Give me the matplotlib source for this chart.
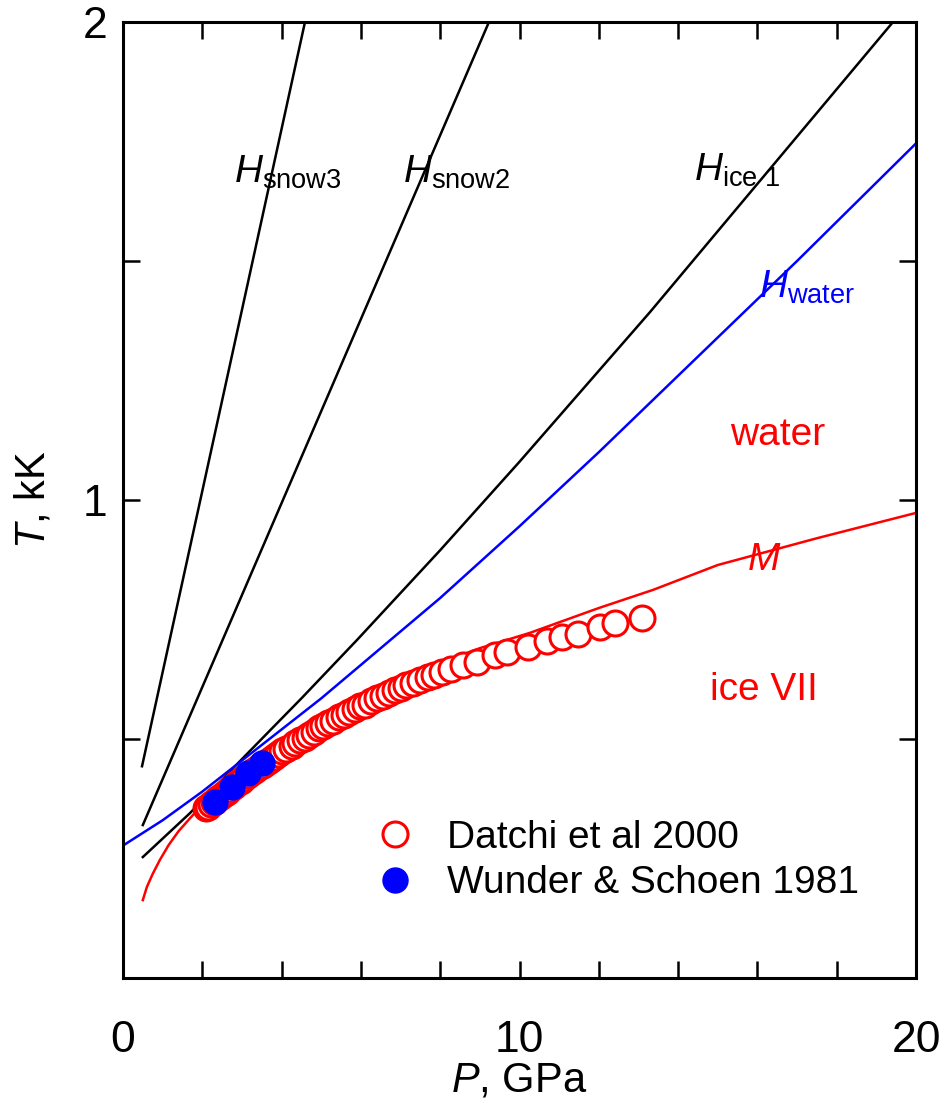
import matplotlib
matplotlib.use("Agg")
import matplotlib.pyplot as plt
from matplotlib import font_manager
from matplotlib.ticker import MultipleLocator

# Hugoniots and melting line (P in GPa, T in kK)
snow3_P = [0.48, 4.59]
snow3_T = [0.443, 2.0]
snow2_P = [0.5, 9.23]
snow2_T = [0.32, 2.0]
ice1_P = [0.5, 1.69, 3.0, 4.5, 5.9, 8.0, 10.0, 13.29, 19.42]
ice1_T = [0.253, 0.345, 0.458, 0.585, 0.707, 0.895, 1.08, 1.393, 2.0]
water_P = [0.0, 1.0, 2.0, 3.0, 4.0, 5.0, 6.0, 7.0, 8.0, 9.0, 10.0, 12.0, 14.0, 15.2, 17.0, 20.0]
water_T = [0.277, 0.33, 0.39, 0.455, 0.52, 0.585, 0.655, 0.725, 0.795, 0.87, 0.945,
           1.10, 1.26, 1.356, 1.50, 1.746]
melt_P = [0.5, 0.6, 0.75, 0.93, 1.15, 1.4, 1.87, 2.5, 3.0, 4.0, 5.0, 6.0, 7.0, 8.0, 9.0,
          10.26, 12.0, 13.37, 15.0, 17.5, 20.0]
melt_T = [0.163, 0.19, 0.218, 0.247, 0.278, 0.307, 0.351, 0.395, 0.432, 0.495, 0.548,
          0.595, 0.63, 0.66, 0.69, 0.722, 0.774, 0.812, 0.864, 0.92, 0.973]

# Datchi et al 2000
datchi_P = [2.10, 2.15, 2.22, 2.30, 2.38, 2.45, 2.55, 2.62, 2.70, 2.80, 2.88, 2.97,
            3.05, 3.15, 3.25, 3.33, 3.42, 3.52, 3.62, 3.70, 3.80, 3.92, 4.02, 4.12,
            4.25, 4.35, 4.46, 4.58, 4.70, 4.82, 4.95, 5.05, 5.18, 5.30, 5.45, 5.58,
            5.70, 5.85, 5.98, 6.10, 6.25, 6.40, 6.55, 6.70, 6.85, 7.00, 7.15, 7.32,
            7.50, 7.68, 7.85, 8.05, 8.28, 8.58, 8.92, 9.38, 9.68, 10.22, 10.69, 11.06,
            11.48, 12.03, 12.41, 13.08]
datchi_T = [0.355, 0.358, 0.363, 0.368, 0.374, 0.378, 0.385, 0.390, 0.395, 0.402, 0.407, 0.413,
            0.418, 0.424, 0.430, 0.435, 0.441, 0.446, 0.452, 0.456, 0.462, 0.468, 0.474, 0.479,
            0.486, 0.491, 0.497, 0.503, 0.509, 0.515, 0.522, 0.527, 0.533, 0.538, 0.545, 0.551,
            0.556, 0.562, 0.568, 0.572, 0.579, 0.585, 0.591, 0.597, 0.602, 0.607, 0.612, 0.618,
            0.624, 0.629, 0.634, 0.640, 0.646, 0.655, 0.662, 0.676, 0.683, 0.693, 0.704, 0.713,
            0.720, 0.734, 0.742, 0.7525]

# Wunder & Schoen 1981
wunder_P = [2.32, 2.74, 3.16, 3.50]
wunder_T = [0.369, 0.400, 0.428, 0.449]

installed = {f.name for f in font_manager.fontManager.ttflist}
narrow = 'Liberation Sans Narrow' if 'Liberation Sans Narrow' in installed else 'Liberation Sans'
tick_size = 36 if narrow != 'Liberation Sans' else 32

plt.rcParams['font.family'] = [narrow, 'Liberation Sans', 'DejaVu Sans']
plt.rcParams['mathtext.fontset'] = 'custom'
plt.rcParams['mathtext.rm'] = 'Liberation Sans'
plt.rcParams['mathtext.it'] = 'Liberation Sans:italic'

fig = plt.figure(figsize=(9.47, 11.04), dpi=100)
ax = fig.add_axes([123 / 947, 1 - 978 / 1104, 793 / 947, 956 / 1104])

ax.plot(snow3_P, snow3_T, color='black', lw=1.8)
ax.plot(snow2_P, snow2_T, color='black', lw=1.8)
ax.plot(ice1_P, ice1_T, color='black', lw=1.8)
ax.plot(water_P, water_T, color='blue', lw=1.8)
ax.plot(melt_P, melt_T, color='red', lw=1.8)

ax.plot(datchi_P, datchi_T, 'o', ms=18, mfc='white', mec='red', mew=2.2,
        label='Datchi et al 2000')
ax.plot(wunder_P, wunder_T, 'o', ms=18, mfc='blue', mec='blue', mew=1,
        label='Wunder & Schoen 1981')

ax.set_xlim(0, 20)
ax.set_ylim(0, 2)

ax.xaxis.set_major_locator(MultipleLocator(2))
ax.xaxis.set_major_formatter(plt.FuncFormatter(lambda v, p: f'{v:.0f}' if v % 10 == 0 else ''))
ax.yaxis.set_major_locator(MultipleLocator(0.5))
ax.yaxis.set_major_formatter(plt.FuncFormatter(lambda v, p: f'{v:.0f}' if v in (1, 2) else ''))
ax.tick_params(direction='in', length=12, width=1.8, top=True, right=True,
               labelsize=tick_size)
ax.tick_params(axis='x', pad=30)
ax.tick_params(axis='y', pad=11)
for s in ax.spines.values():
    s.set_linewidth(2.2)

ax.set_xlabel('$P$, GPa', fontsize=30, va='center')
ax.xaxis.set_label_coords(0.5, -0.107)
ax.set_ylabel('$T$, kK', fontsize=30, va='center')
ax.yaxis.set_label_coords(-0.113, 0.5)

lab = dict(fontsize=28, ha='left', va='baseline')
ax.text(2.8, 1.663, r'$H_{\mathrm{snow3}}$', color='black', **lab)
ax.text(7.05, 1.663, r'$H_{\mathrm{snow2}}$', color='black', **lab)
ax.text(14.4, 1.667, r'$H_{\mathrm{ice\ 1}}$', color='black', **lab)
ax.text(16.05, 1.423, r'$H_{\mathrm{water}}$', color='blue', **lab)
ax.text(15.75, 0.854, r'$M$', color='red', **lab)
ax.text(15.3, 1.115, 'water', color='red', fontsize=28, ha='left', va='baseline',
        family='Liberation Sans')
ax.text(14.8, 0.582, 'ice VII', color='red', fontsize=28, ha='left', va='baseline',
        family='Liberation Sans')

ax.legend(loc='center left', bbox_to_anchor=(0.318, 0.123), frameon=False,
          prop={'family': 'Liberation Sans', 'size': 28}, handlelength=1.0,
          handletextpad=0.84, labelspacing=0.25, borderpad=0, borderaxespad=0,
          numpoints=1)

fig.savefig('out.png', dpi=100)
